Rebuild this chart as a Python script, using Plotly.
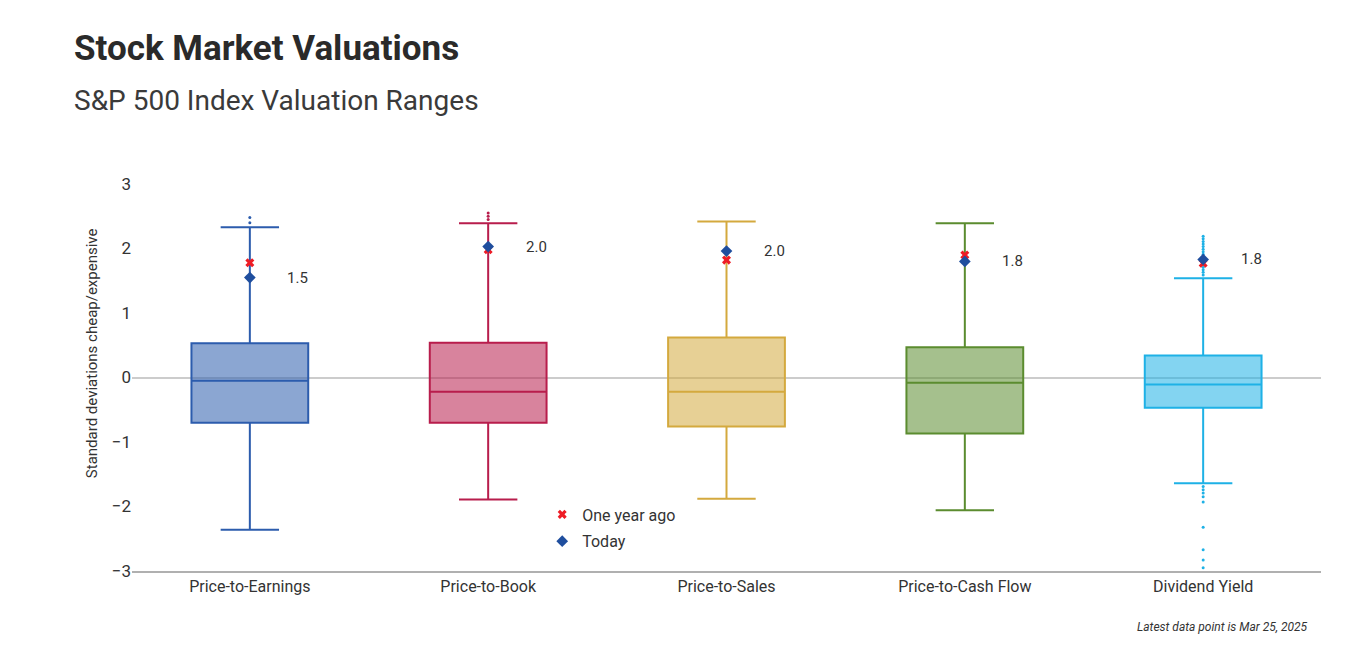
import plotly.graph_objects as go

categories = ["Price-to-Earnings", "Price-to-Book", "Price-to-Sales", "Price-to-Cash Flow", "Dividend Yield"]
q1 = [-0.70, -0.70, -0.76, -0.87, -0.47]
median = [-0.05, -0.22, -0.22, -0.08, -0.11]
q3 = [0.53, 0.54, 0.62, 0.47, 0.34]
lower_whisker = [-2.36, -1.89, -1.88, -2.06, -1.64]
upper_whisker = [2.33, 2.39, 2.42, 2.39, 1.54]
outliers = [
    [2.40, 2.48],
    [2.45, 2.50, 2.55],
    [],
    [],
    [2.19, 2.15, 2.11, 2.07, 2.03, 1.99, 1.95, 1.91, 1.87, 1.83, 1.79, 1.75, 1.71, 1.67, 1.63, 1.59,
     -1.69, -1.74, -1.79, -1.85, -1.93, -2.32, -2.67, -2.83, -2.95],
]
one_year_ago = [1.78, 1.98, 1.82, 1.90, 1.77]
today = [1.55, 2.03, 1.96, 1.80, 1.83]
labels = ["1.5", "2.0", "2.0", "1.8", "1.8"]

line_colors = ["#2c5cad", "#b81d4c", "#d4a93e", "#5b8c2f", "#1eb1e6"]
fill_colors = ["rgba(44,92,173,0.55)", "rgba(184,29,76,0.55)", "rgba(212,169,62,0.55)",
               "rgba(91,140,47,0.55)", "rgba(30,177,230,0.55)"]

FONT = "Roboto, sans-serif"
TXT = "#333333"

fig = go.Figure()
for i, c in enumerate(categories):
    fig.add_trace(go.Box(
        x=[c], q1=[q1[i]], median=[median[i]], q3=[q3[i]],
        lowerfence=[lower_whisker[i]], upperfence=[upper_whisker[i]],
        fillcolor=fill_colors[i], line=dict(color=line_colors[i], width=2),
        width=0.49, whiskerwidth=0.5, boxpoints=False, showlegend=False,
        hoverinfo="skip",
    ))
    if outliers[i]:
        fig.add_trace(go.Scatter(
            x=[c] * len(outliers[i]), y=outliers[i], mode="markers",
            marker=dict(color=line_colors[i], size=3), showlegend=False, hoverinfo="skip",
        ))

fig.add_trace(go.Scatter(
    x=categories, y=one_year_ago, mode="markers", name="One year ago", legendgroup="a",
    marker=dict(symbol="x", color="#ee1c25", size=8),
))
fig.add_trace(go.Scatter(
    x=categories, y=today, mode="markers", name="Today", legendgroup="b",
    marker=dict(symbol="diamond", color="#1f4e9e", size=9),
))

for i, c in enumerate(categories):
    fig.add_annotation(x=c, y=today[i], text=labels[i], showarrow=False, xshift=48,
                       font=dict(family=FONT, size=15, color=TXT))

fig.add_annotation(xref="paper", yref="paper", x=-0.0336, xanchor="center", y=0.563, yanchor="middle",
                   text="Standard deviations cheap/expensive",
                   textangle=-90, showarrow=False, font=dict(family=FONT, size=15, color=TXT))

fig.add_annotation(xref="paper", yref="paper", x=1.0, xanchor="right", xshift=-11, y=-0.145, yanchor="middle",
                   text="<i>Latest data point is Mar 25, 2025</i>", showarrow=False,
                   font=dict(family=FONT, size=12, color=TXT))

fig.add_annotation(xref="paper", yref="paper", x=-0.0505, xanchor="left", y=1.292, yanchor="bottom",
                   text="<b>Stock Market Valuations</b>", showarrow=False,
                   font=dict(family=FONT, size=35, color="#2a2a2a"))
fig.add_annotation(xref="paper", yref="paper", x=-0.0505, xanchor="left", y=1.169, yanchor="bottom",
                   text="S&P 500 Index Valuation Ranges", showarrow=False,
                   font=dict(family=FONT, size=28, color="#3a3a3a"))

fig.update_layout(
    width=1364, height=660,
    margin=dict(l=124, r=51, t=176, b=97),
    paper_bgcolor="white", plot_bgcolor="white",
    font=dict(family=FONT, color=TXT, size=15),
    showlegend=True,
    legend=dict(x=0.345, y=0.19, xanchor="left", yanchor="top", bgcolor="rgba(0,0,0,0)",
                font=dict(family=FONT, size=16, color=TXT), itemwidth=30, tracegroupgap=3),
    boxmode="overlay",
)
fig.update_xaxes(showgrid=False, showline=True, linecolor="#b0b0b0", linewidth=1.5,
                 ticks="", tickfont=dict(family=FONT, size=16, color=TXT), zeroline=False,
                 categoryorder="array", categoryarray=categories)
fig.update_yaxes(range=[-3, 3], tickvals=[-3, -2, -1, 0, 1, 2, 3],
                 ticktext=["\u22123", "\u22122", "\u22121", "0", "1", "2", "3"],
                 showgrid=False, zeroline=True, zerolinecolor="#cccccc", zerolinewidth=1.5,
                 showline=False, ticks="", ticklen=0, tickfont=dict(family=FONT, size=17, color=TXT))

fig.write_html("out.html")
